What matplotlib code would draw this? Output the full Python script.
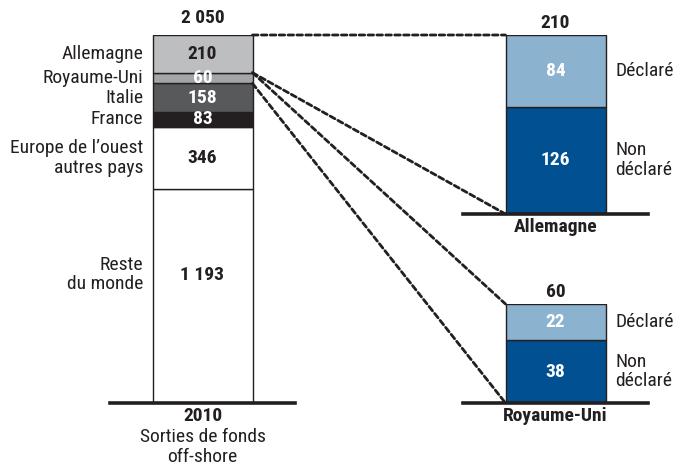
import matplotlib
matplotlib.use("Agg")
import matplotlib.pyplot as plt
from matplotlib.patches import ConnectionPatch

plt.rcParams['font.family'] = ['Roboto Condensed', 'DejaVu Sans']

# left stacked bar, from the bottom up
regions = ["Reste\ndu monde", "Europe de l\u2019ouest\nautres pays", "France", "Italie",
           "Royaume-Uni", "Allemagne"]
outflows = [1193, 346, 83, 158, 60, 210]
region_colors = ["white", "white", "#231f20", "#58595b", "#a3a5a8", "#bcbec0"]
value_colors = ["#231f20", "#231f20", "white", "white", "white", "#231f20"]
label_frac = [0.6, 0.5, 0.5, 0.5, 0.5, 0.5]

# breakdown bars (bottom: non declared, top: declared)
split_labels = ["Non\nd\u00e9clar\u00e9", "D\u00e9clar\u00e9"]
germany_split = [126, 84]
uk_split = [38, 22]
split_colors = ["#005092", "#8bb2cf"]

year_label = "2010"
year_sub = "Sorties de fonds\noff-shore"

W, H = 674, 470
fig = plt.figure(figsize=(W / 100, H / 100), dpi=100)
FS = 14
LS = 1.12


def px_axes(x0, y_top, x1, y_bot):
    return fig.add_axes([x0 / W, 1 - y_bot / H, (x1 - x0) / W, (y_bot - y_top) / H])


def fmt(v):
    return f"{v:,}".replace(",", " ")


def style(ax, top):
    ax.set_xlim(-0.925, 0.925)
    ax.set_ylim(0, top)
    for s in ["left", "right", "top"]:
        ax.spines[s].set_visible(False)
    ax.spines["bottom"].set_linewidth(2.6)
    ax.spines["bottom"].set_color("#231f20")
    ax.set_xticks([])
    ax.set_yticks([])
    ax.patch.set_alpha(0)


ax_main = px_axes(110, 35, 295, 403)
ax_de = px_axes(463, 35, 648, 214)
ax_uk = px_axes(463, 304, 648, 403)

total = sum(outflows)
style(ax_main, total)
bottoms = []
b = 0
for name, v, c, tc, f in zip(regions, outflows, region_colors, value_colors, label_frac):
    ax_main.bar(0, v, bottom=b, width=1.0, color=c, edgecolor="#231f20", linewidth=1.0)
    y = b + v * f
    ax_main.text(0, y, fmt(v), ha="center", va="center", fontsize=FS,
                 fontweight="bold", color=tc)
    ax_main.text(-0.59, y, name, ha="right", va="center", fontsize=FS,
                 color="#231f20", linespacing=LS)
    bottoms.append(b)
    b += v

ax_main.annotate(fmt(total), (0, total), xytext=(0, 6), textcoords="offset points",
                 ha="center", va="bottom", fontsize=FS, fontweight="bold", color="#231f20")
ax_main.annotate(year_label, (0, 0), xytext=(0, -3), textcoords="offset points",
                 ha="center", va="top", fontsize=FS, fontweight="bold", color="#231f20")
ax_main.annotate(year_sub, (0, 0), xytext=(0, -18), textcoords="offset points",
                 ha="center", va="top", fontsize=FS, color="#231f20", linespacing=LS)


def split_bar(ax, values, country):
    tot = sum(values)
    style(ax, tot)
    b = 0
    for v, c, lab in zip(values, split_colors, split_labels):
        ax.bar(0, v, bottom=b, width=1.0, color=c, edgecolor="#231f20", linewidth=1.0)
        ax.text(0, b + v / 2, fmt(v), ha="center", va="center", fontsize=FS,
                fontweight="bold", color="white")
        ax.text(0.6, b + v / 2, lab, ha="left", va="center", fontsize=FS,
                color="#231f20", linespacing=LS)
        b += v
    ax.annotate(fmt(tot), (0, tot), xytext=(0, 2), textcoords="offset points",
                ha="center", va="bottom", fontsize=FS, fontweight="bold", color="#231f20")
    ax.annotate(country, (0, 0), xytext=(0, -3), textcoords="offset points",
                ha="center", va="top", fontsize=FS, fontweight="bold", color="#231f20")


split_bar(ax_de, germany_split, "Allemagne")
split_bar(ax_uk, uk_split, "Royaume-Uni")

# dashed connectors from the left bar segments to the breakdown bars
i_de = regions.index("Allemagne")
i_uk = regions.index("Royaume-Uni")
links = [
    (bottoms[i_de] + outflows[i_de], ax_de, sum(germany_split)),
    (bottoms[i_de], ax_de, 0),
    (bottoms[i_uk] + outflows[i_uk], ax_uk, sum(uk_split)),
    (bottoms[i_uk], ax_uk, 0),
]
for ya, axb, yb in links:
    con = ConnectionPatch(xyA=(0.5, ya), coordsA="data", axesA=ax_main,
                          xyB=(-0.5, yb), coordsB="data", axesB=axb,
                          color="#231f20", linewidth=2.0, linestyle=(0, (2, 1.2)))
    fig.add_artist(con)

fig.savefig("out.png", dpi=100)
